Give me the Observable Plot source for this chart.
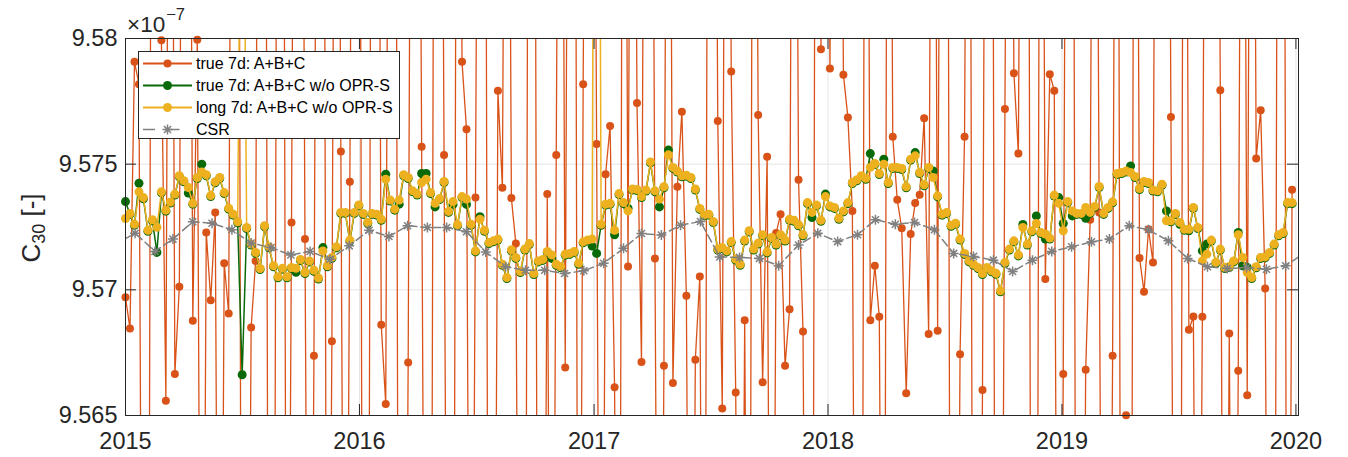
<!DOCTYPE html>
<html>
<head>
<meta charset="utf-8">
<script src="https://cdn.jsdelivr.net/npm/d3@7"></script>
<script src="https://cdn.jsdelivr.net/npm/@observablehq/plot@0.6"></script>
<style>
  body { margin: 0; background: #fff; }
  #wrap { position: relative; width: 1348px; height: 457px; font-family: "Liberation Sans", Arial, Helvetica, sans-serif; }
  #wrap > svg { position: absolute; left: 0; top: 0; display: block; }
  #overlay { pointer-events: none; }
</style>
</head>
<body>
<div id="wrap"></div>
<script>
// ---- data (values in units of 1e-7) ----
const seriesNames = ["true 7d: A+B+C", "true 7d: A+B+C w/o OPR-S", "long 7d: A+B+C w/o OPR-S", "CSR"];
const seriesColors = ["#D95319", "#0a6a0a", "#EDB120", "#808080"];
const weeklyStart = "2015-01-01";   // first weekly solution, then every 7 days
const csrStart = "2014-12";         // monthly CSR solutions (mid-month)

const trueABC = [
 9.56970, 9.56846, 9.57907, 9.57818, 9.54, 9.54, 9.61, 9.61, 9.57993, 9.56559,
 9.61, 9.56665, 9.57012, 9.61, 9.61, 9.56877, 9.57995, 9.54, 9.57228, 9.56959,
 9.57308, 9.54, 9.57106, 9.56906, 9.61, 9.61, 9.54, 9.54, 9.56850, 9.57115,
 9.61, 9.61, 9.54, 9.54, 9.61, 9.61, 9.54, 9.57268, 9.61, 9.61,
 9.57202, 9.54, 9.56738, 9.61, 9.61, 9.54, 9.56795, 9.61, 9.57550, 9.54,
 9.57430, 9.61, 9.61, 9.54, 9.54, 9.61, 9.61, 9.56861, 9.56546, 9.61,
 9.61, 9.54, 9.54, 9.56711, 9.61, 9.61, 9.57569, 9.54, 9.54, 9.61,
 9.61, 9.57536, 9.54, 9.54, 9.61, 9.57907, 9.57639, 9.54, 9.57367, 9.61,
 9.61, 9.54, 9.54, 9.57792, 9.57406, 9.61, 9.57365, 9.57184, 9.54, 9.54,
 9.61, 9.61, 9.54, 9.54, 9.57381, 9.54, 9.57536, 9.61, 9.56691, 9.61,
 9.61, 9.54, 9.57818, 9.61, 9.61, 9.57580, 9.54, 9.57460, 9.57652, 9.56612,
 9.54, 9.61, 9.57093, 9.61, 9.57743, 9.56713, 9.61, 9.61, 9.57125, 9.54,
 9.56698, 9.61, 9.56629, 9.57410, 9.57709, 9.56976, 9.54, 9.56722, 9.57053, 9.54,
 9.61, 9.61, 9.57672, 9.56528, 9.61, 9.57869, 9.56592, 9.54, 9.56879, 9.54,
 9.61, 9.57696, 9.56632, 9.57530, 9.54, 9.57226, 9.57301, 9.56698, 9.56923, 9.61,
 9.57438, 9.56834, 9.54, 9.54, 9.61, 9.57957, 9.61, 9.57881, 9.61, 9.61,
 9.57856, 9.57686, 9.57314, 9.54, 9.54, 9.61, 9.56879, 9.57096, 9.56893, 9.54,
 9.61, 9.57609, 9.57358, 9.57245, 9.56589, 9.57222, 9.57345, 9.57378, 9.57683, 9.56824,
 9.61, 9.56837, 9.61, 9.61, 9.54, 9.54, 9.56744, 9.57609, 9.61, 9.54,
 9.54, 9.56601, 9.61, 9.61, 9.54, 9.54, 9.57719, 9.61, 9.57862, 9.57542,
 9.61, 9.61, 9.54, 9.54, 9.61, 9.57043, 9.57858, 9.57792, 9.54, 9.56665,
 9.61, 9.61, 9.54, 9.54, 9.56682, 9.57279, 9.61, 9.57308, 9.54, 9.54,
 9.56738, 9.61, 9.54, 9.56501, 9.54, 9.61, 9.57127, 9.56992, 9.57241, 9.57109,
 9.61, 9.61, 9.61, 9.57688, 9.54, 9.54, 9.61, 9.56841, 9.56894, 9.54,
 9.56893, 9.61, 9.61, 9.61, 9.57794, 9.54, 9.56826, 9.54, 9.56678, 9.61,
 9.56581, 9.61, 9.57523, 9.57715, 9.57005, 9.54, 9.54, 9.61, 9.61, 9.54, 9.57398
];

const trueNoOPR = [
 9.57351, 9.57300, 9.57257, 9.57424, 9.57362, 9.57233, 9.57275, 9.57149, 9.57386, 9.57313,
 9.57345, 9.57377, 9.57450, 9.57430, 9.57385, 9.57341, 9.57443, 9.57500, 9.57454, 9.57371,
 9.57426, 9.57443, 9.57383, 9.57321, 9.57297, 9.57267, 9.56662, 9.57244, 9.57178, 9.57145,
 9.57081, 9.57251, 9.57167, 9.57092, 9.57048, 9.57082, 9.57048, 9.57085, 9.57070, 9.57117,
 9.57065, 9.57111, 9.57074, 9.57043, 9.57168, 9.57092, 9.57125, 9.57167, 9.57304, 9.57304,
 9.57194, 9.57304, 9.57334, 9.57300, 9.57264, 9.57300, 9.57297, 9.57277, 9.57460, 9.57353,
 9.57317, 9.57341, 9.57454, 9.57443, 9.57390, 9.57377, 9.57463, 9.57463, 9.57383, 9.57330,
 9.57359, 9.57427, 9.57308, 9.57340, 9.57255, 9.57367, 9.57340, 9.57257, 9.57151, 9.57291,
 9.57233, 9.57184, 9.57191, 9.57198, 9.57098, 9.57045, 9.57155, 9.57125, 9.57069, 9.57158,
 9.57180, 9.57061, 9.57111, 9.57117, 9.57149, 9.57125, 9.57098, 9.57088, 9.57138, 9.57141,
 9.57149, 9.57102, 9.57187, 9.57194, 9.57174, 9.57145, 9.57257, 9.57337, 9.57340, 9.57219,
 9.57379, 9.57343, 9.57325, 9.57397, 9.57395, 9.57367, 9.57393, 9.57505, 9.57390, 9.57330,
 9.57406, 9.57556, 9.57483, 9.57469, 9.57450, 9.57452, 9.57443, 9.57397, 9.57320, 9.57294,
 9.57297, 9.57268, 9.57158, 9.57164, 9.57151, 9.57188, 9.57118, 9.57098, 9.57194, 9.57231,
 9.57158, 9.57182, 9.57215, 9.57147, 9.57204, 9.57178, 9.57215, 9.57194, 9.57277, 9.57273,
 9.57255, 9.57215, 9.57343, 9.57288, 9.57334, 9.57273, 9.57381, 9.57330, 9.57324, 9.57281,
 9.57310, 9.57343, 9.57423, 9.57434, 9.57450, 9.57440, 9.57542, 9.57499, 9.57459, 9.57520,
 9.57423, 9.57483, 9.57483, 9.57479, 9.57406, 9.57516, 9.57546, 9.57463, 9.57414, 9.57483,
 9.57473, 9.57370, 9.57297, 9.57304, 9.57253, 9.57261, 9.57198, 9.57141, 9.57111, 9.57098,
 9.57085, 9.57061, 9.57085, 9.57072, 9.57062, 9.56992, 9.57105, 9.57158, 9.57191, 9.57135,
 9.57260, 9.57178, 9.57231, 9.57294, 9.57224, 9.57202, 9.57202, 9.57373, 9.57367, 9.57264,
 9.57347, 9.57294, 9.57300, 9.57300, 9.57285, 9.57304, 9.57328, 9.57407, 9.57300, 9.57324,
 9.57346, 9.57459, 9.57463, 9.57469, 9.57493, 9.57447, 9.57399, 9.57427, 9.57423, 9.57393,
 9.57390, 9.57416, 9.57314, 9.57271, 9.57300, 9.57261, 9.57237, 9.57235, 9.57324, 9.57244,
 9.57155, 9.57182, 9.57194, 9.57105, 9.57158, 9.57085, 9.57089, 9.57111, 9.57228, 9.57096,
 9.57089, 9.57045, 9.57088, 9.57125, 9.57127, 9.57145, 9.57178, 9.57215, 9.57224, 9.57343, 9.57343
];

const longNoOPR = [
 9.57284, 9.57304, 9.57261, 9.57390, 9.57367, 9.57237, 9.57279, 9.57249, 9.57390, 9.57317,
 9.57349, 9.57381, 9.57454, 9.57434, 9.57407, 9.57344, 9.57447, 9.57469, 9.57458, 9.57375,
 9.57430, 9.57447, 9.57387, 9.57325, 9.57301, 9.57271, 9.59500, 9.57248, 9.57182, 9.57149,
 9.57085, 9.57255, 9.57171, 9.57096, 9.57052, 9.57086, 9.57052, 9.57089, 9.57086, 9.57121,
 9.57069, 9.57115, 9.57078, 9.57047, 9.57155, 9.57096, 9.57129, 9.57171, 9.57308, 9.57308,
 9.57198, 9.57308, 9.57338, 9.57304, 9.57268, 9.57304, 9.57301, 9.57281, 9.57440, 9.57357,
 9.57321, 9.57357, 9.57458, 9.57447, 9.57394, 9.57381, 9.57427, 9.57440, 9.57387, 9.57344,
 9.57363, 9.57431, 9.57312, 9.57351, 9.57259, 9.57371, 9.57361, 9.57261, 9.57155, 9.57281,
 9.57237, 9.57188, 9.57195, 9.57202, 9.57102, 9.57049, 9.57159, 9.57129, 9.57073, 9.57162,
 9.57184, 9.57065, 9.57115, 9.57121, 9.57153, 9.57139, 9.57102, 9.57092, 9.57142, 9.57145,
 9.57153, 9.57106, 9.57191, 9.57198, 9.57202, 9.62000, 9.57261, 9.57341, 9.57344, 9.57237,
 9.57383, 9.57347, 9.57314, 9.57401, 9.57399, 9.57371, 9.57397, 9.57509, 9.57394, 9.57361,
 9.57410, 9.57537, 9.57487, 9.57473, 9.57454, 9.57456, 9.57447, 9.57401, 9.57324, 9.57298,
 9.57301, 9.57272, 9.57162, 9.57168, 9.57155, 9.57192, 9.57122, 9.57102, 9.57198, 9.57235,
 9.57162, 9.57186, 9.57219, 9.57151, 9.57208, 9.57182, 9.57219, 9.57198, 9.57281, 9.57277,
 9.57259, 9.57219, 9.57347, 9.57308, 9.57338, 9.57277, 9.57371, 9.57334, 9.57328, 9.57285,
 9.57314, 9.57347, 9.57427, 9.57438, 9.57454, 9.57444, 9.57487, 9.57503, 9.57463, 9.57500,
 9.57427, 9.57487, 9.57487, 9.57483, 9.57410, 9.57520, 9.57533, 9.57467, 9.57418, 9.57487,
 9.57447, 9.57374, 9.57301, 9.57308, 9.57257, 9.57265, 9.57202, 9.57145, 9.57115, 9.57102,
 9.57089, 9.57065, 9.57089, 9.57076, 9.57066, 9.56996, 9.57109, 9.57162, 9.57195, 9.57139,
 9.57248, 9.57182, 9.57235, 9.57264, 9.57228, 9.57222, 9.57206, 9.57377, 9.57344, 9.57235,
 9.57351, 9.57314, 9.57304, 9.57304, 9.57328, 9.57308, 9.57332, 9.57411, 9.57304, 9.57328,
 9.57350, 9.57463, 9.57467, 9.57473, 9.57467, 9.57451, 9.57403, 9.57431, 9.57427, 9.57397,
 9.57394, 9.57420, 9.57275, 9.57275, 9.57304, 9.57268, 9.57241, 9.57241, 9.57328, 9.57248,
 9.57115, 9.57142, 9.57198, 9.57109, 9.57162, 9.57089, 9.57093, 9.57115, 9.57219, 9.57129,
 9.57069, 9.57049, 9.57092, 9.57129, 9.57131, 9.57149, 9.57182, 9.57219, 9.57228, 9.57347, 9.57347
];

const csrMonthly = [
 9.57182,
 9.57225, 9.57153, 9.57202, 9.57271, 9.57265, 9.57239, 9.57186, 9.57168, 9.57139, 9.57153, 9.57122, 9.57175,
 9.57237, 9.57212, 9.57255, 9.57248, 9.57248, 9.57231, 9.57151, 9.57092, 9.57078, 9.57078, 9.57065, 9.57076,
 9.57106, 9.57165, 9.57224, 9.57218, 9.57257, 9.57272, 9.57131, 9.57129, 9.57125, 9.57096, 9.57178, 9.57225,
 9.57192, 9.57219, 9.57279, 9.57261, 9.57268, 9.57239, 9.57145, 9.57133, 9.57118, 9.57073, 9.57118, 9.57153,
 9.57171, 9.57191, 9.57202, 9.57255, 9.57239, 9.57195, 9.57125, 9.57092, 9.57085, 9.57089, 9.57082, 9.57096,
 9.57149
];

const yTicks = [9.565, 9.57, 9.575, 9.58];
const yearTicks = [2015, 2016, 2017, 2018, 2019, 2020];

// ---- build tables ----
const [wy, wm, wd] = weeklyStart.split("-").map(Number);
const weekDate = i => new Date(Date.UTC(wy, wm - 1, wd + 7 * i));
const [cy, cm] = csrStart.split("-").map(Number);
const monthDate = i => new Date(Date.UTC(cy, cm - 1 + i, 16));
const toRows = (vals, dateFn) => vals.map((v, i) => ({date: dateFn(i), v}));
const orangeRows = toRows(trueABC, weekDate);
const greenRows = toRows(trueNoOPR, weekDate);
const yellowRows = toRows(longNoOPR, weekDate);
const csrRows = toRows(csrMonthly, monthDate);

const xDomain = [new Date(Date.UTC(2015, 0, 1)), new Date(Date.UTC(2020, 0, 5))];
const yDomain = [9.565, 9.58];
const inside = d => d.date >= xDomain[0] && d.date <= xDomain[1] && d.v >= yDomain[0] && d.v <= yDomain[1];
const yearDates = yearTicks.map(y => new Date(Date.UTC(y, 0, 1)));

const W = 1348, H = 457, mL = 125, mR = 50, mT = 38, mB = 42;
const innerW = W - mL - mR, innerH = H - mT - mB, tickLen = 11;
const axisColor = "#262626", gridColor = "#e4e4e4";

const asterisk = {
  draw(ctx, size) {
    const r = Math.sqrt(size / Math.PI), d = r * Math.SQRT1_2;
    ctx.moveTo(-r, 0); ctx.lineTo(r, 0);
    ctx.moveTo(0, -r); ctx.lineTo(0, r);
    ctx.moveTo(-d, -d); ctx.lineTo(d, d);
    ctx.moveTo(-d, d); ctx.lineTo(d, -d);
  }
};

const chart = Plot.plot({
  width: W, height: H,
  marginLeft: mL, marginRight: mR, marginTop: mT, marginBottom: mB,
  style: {fontFamily: '"Liberation Sans", Arial, Helvetica, sans-serif', color: axisColor, background: "transparent"},
  x: {type: "utc", domain: xDomain},
  y: {domain: yDomain},
  marks: [
    Plot.ruleX(yearDates, {stroke: gridColor, strokeWidth: 1}),
    Plot.ruleY(yTicks, {stroke: gridColor, strokeWidth: 1}),
    // series 1
    Plot.line(orangeRows, {x: "date", y: "v", stroke: seriesColors[0], strokeWidth: 1.3, clip: true}),
    Plot.dot(orangeRows, {filter: inside, x: "date", y: "v", r: 4, fill: seriesColors[0], stroke: "none"}),
    // series 2
    Plot.line(greenRows, {x: "date", y: "v", stroke: seriesColors[1], strokeWidth: 1.5, clip: true}),
    Plot.dot(greenRows, {filter: inside, x: "date", y: "v", r: 4.5, fill: seriesColors[1], stroke: "none"}),
    // series 3
    Plot.line(yellowRows, {x: "date", y: "v", stroke: seriesColors[2], strokeWidth: 1.5, clip: true}),
    Plot.dot(yellowRows, {filter: inside, x: "date", y: "v", r: 4.5, fill: seriesColors[2], stroke: "none"}),
    // CSR
    Plot.line(csrRows, {x: "date", y: "v", stroke: seriesColors[3], strokeWidth: 1.5, strokeDasharray: "8,4", clip: true}),
    Plot.dot(csrRows, {filter: inside, x: "date", y: "v", r: 5, symbol: asterisk, fill: "none", stroke: seriesColors[3], strokeWidth: 1.5}),
    // box and inward ticks
    Plot.frame({stroke: axisColor, strokeWidth: 1}),
    Plot.ruleX(yearDates, {stroke: axisColor, insetTop: innerH - tickLen}),
    Plot.ruleX(yearDates, {stroke: axisColor, insetBottom: innerH - tickLen}),
    Plot.ruleY(yTicks, {stroke: axisColor, insetRight: innerW - tickLen}),
    Plot.ruleY(yTicks, {stroke: axisColor, insetLeft: innerW - tickLen}),
    Plot.axisX({ticks: yearDates, tickFormat: d3.utcFormat("%Y"), tickSize: 0, tickPadding: 17, fontSize: 23.5, label: null}),
    Plot.axisY({ticks: yTicks, tickFormat: d => String(+d.toFixed(3)), tickSize: 0, tickPadding: 8, fontSize: 23.5, label: null})
  ]
});

const wrap = document.getElementById("wrap");
wrap.appendChild(chart);

// ---- overlay: exponent, y label, legend ----
const ns = "http://www.w3.org/2000/svg";
const ov = document.createElementNS(ns, "svg");
ov.setAttribute("id", "overlay");
ov.setAttribute("width", W); ov.setAttribute("height", H);
ov.setAttribute("font-family", '"Liberation Sans", Arial, Helvetica, sans-serif');
const legendRows = [63.5, 85.5, 107.5, 129.5];
const star = (cx, cy, r) => {
  const d = r * Math.SQRT1_2;
  return `M${cx - r},${cy}H${cx + r}M${cx},${cy - r}V${cy + r}M${cx - d},${cy - d}L${cx + d},${cy + d}M${cx - d},${cy + d}L${cx + d},${cy - d}`;
};
let legendItems = "";
seriesNames.forEach((name, i) => {
  const y = legendRows[i], c = seriesColors[i];
  if (i < 3) {
    legendItems += `<line x1="143" x2="192" y1="${y}" y2="${y}" stroke="${c}" stroke-width="2"/>`;
    legendItems += `<circle cx="167.5" cy="${y}" r="${i === 0 ? 4 : 4.5}" fill="${c}"/>`;
  } else {
    legendItems += `<line x1="143" x2="192" y1="${y}" y2="${y}" stroke="${c}" stroke-width="1.5" stroke-dasharray="12,12.5"/>`;
    legendItems += `<path d="${star(167.5, y, 5)}" stroke="${c}" stroke-width="1.5" fill="none"/>`;
  }
  legendItems += `<text x="196" y="${y + 5.6}" font-size="16" fill="#000">${name}</text>`;
});
ov.innerHTML = `
  <text x="127" y="31.5" font-size="22.5" fill="${axisColor}">×10<tspan font-size="16.5" dx="1" dy="-12">−7</tspan></text>
  <text transform="translate(40,228) rotate(-90)" text-anchor="middle" font-size="26" fill="${axisColor}">C<tspan font-size="18" dy="5">30</tspan><tspan dy="-5"> [-]</tspan></text>
  <rect x="138.5" y="51.5" width="261" height="87" fill="#fff" stroke="${axisColor}" stroke-width="1"/>
  ${legendItems}
`;
wrap.appendChild(ov);
</script>
</body>
</html>
